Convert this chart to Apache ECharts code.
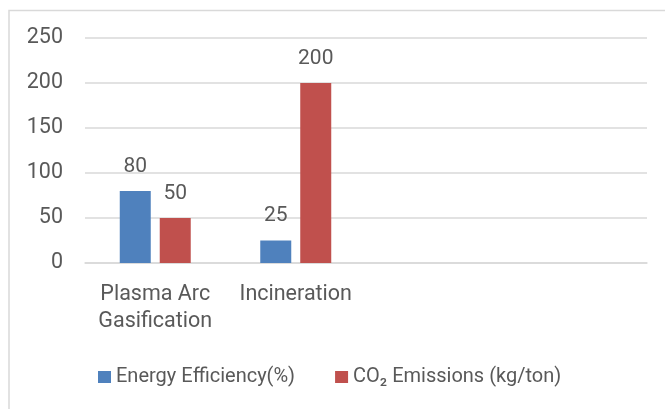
<!DOCTYPE html>
<html>
<head>
<meta charset="utf-8">
<script src="https://cdn.jsdelivr.net/npm/echarts@6/dist/echarts.min.js"></script>
<style>
  html, body { margin: 0; padding: 0; background: #ffffff; }
  #chart { width: 665px; height: 409px; }
</style>
</head>
<body>
<div id="chart"></div>
<script>
// Categories (the two trailing slots are left empty, as in the source workbook)
const categories = ['Plasma Arc\nGasification', 'Incineration', '', ''];
const seriesNames = ['Energy Efficiency(%)', 'CO\u2082 Emissions (kg/ton)'];
const energyEfficiency = [80, 25];
const co2Emissions = [50, 200];
const yTicks = { min: 0, max: 250, interval: 50 };

const textColor = '#595959';
const gridColor = '#d9d9d9';
const fontFamily = 'Roboto, "Noto Sans", sans-serif';

const chart = echarts.init(document.getElementById('chart'), null, { renderer: 'canvas' });

const labelStyle = {
  show: true,
  position: 'top',
  distance: 14,
  color: textColor,
  fontSize: 21,
  fontFamily: fontFamily
};

chart.setOption({
  backgroundColor: '#ffffff',
  animation: false,
  graphic: [{
    type: 'rect',
    silent: true,
    shape: { x: 9, y: 10.5, width: 720, height: 480 },
    style: { fill: 'none', stroke: gridColor, lineWidth: 1.5 }
  }],
  grid: { left: 85, right: 18, top: 38, bottom: 146, containLabel: false },
  legend: {
    left: 98,
    top: 366,
    padding: 0,
    itemWidth: 13,
    itemHeight: 12,
    itemGap: 40,
    icon: 'rect',
    textStyle: { color: textColor, fontSize: 20, fontFamily: fontFamily, lineHeight: 22 },
    data: seriesNames
  },
  xAxis: {
    type: 'category',
    data: categories,
    axisTick: { show: false },
    axisLine: { lineStyle: { color: gridColor, width: 1.5 } },
    axisLabel: {
      color: textColor,
      fontSize: 21.5,
      fontFamily: fontFamily,
      lineHeight: 27,
      margin: 18,
      interval: 0
    }
  },
  yAxis: {
    type: 'value',
    min: yTicks.min,
    max: yTicks.max,
    interval: yTicks.interval,
    axisLine: { show: false },
    axisTick: { show: false },
    splitLine: { lineStyle: { color: gridColor, width: 1.5 } },
    axisLabel: { color: textColor, fontSize: 21.5, fontFamily: fontFamily, margin: 22 }
  },
  series: [
    {
      name: seriesNames[0],
      type: 'bar',
      data: energyEfficiency,
      barWidth: 31,
      barGap: '29%',
      itemStyle: { color: '#4f81bd' },
      label: labelStyle
    },
    {
      name: seriesNames[1],
      type: 'bar',
      data: co2Emissions,
      barWidth: 31,
      barGap: '29%',
      itemStyle: { color: '#c0504d' },
      label: labelStyle
    }
  ]
});
</script>
</body>
</html>
